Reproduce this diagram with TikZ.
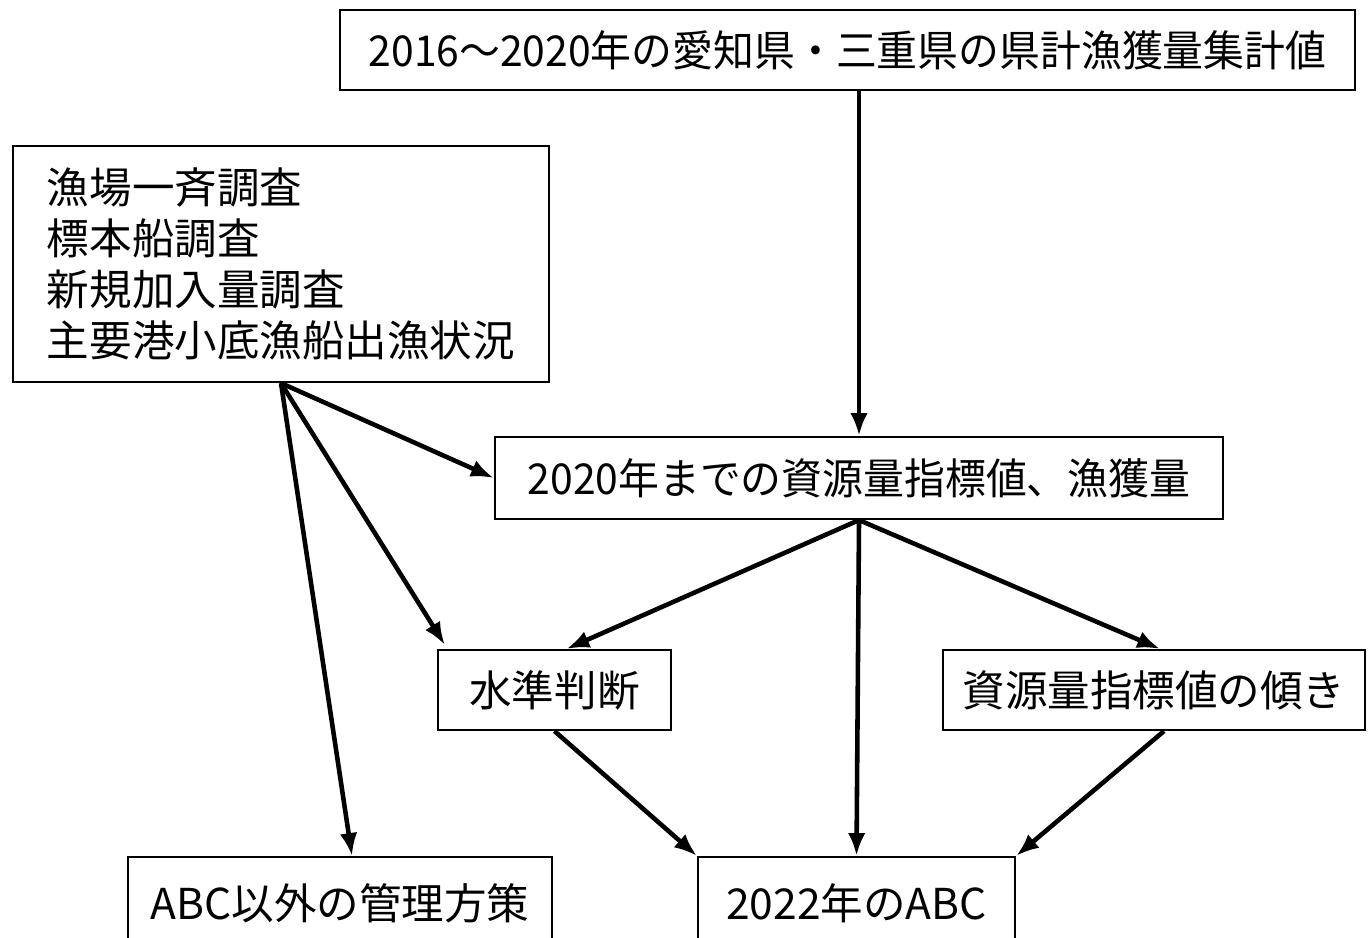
\documentclass[tikz,border=0pt]{standalone}
\usepackage{fontspec}
\setmainfont{Noto Sans CJK JP}
\newfontfamily\narrowjp[FakeStretch=0.96]{Noto Sans CJK JP}
\usetikzlibrary{arrows.meta,calc}
\begin{document}
\begin{tikzpicture}[x=0.01cm,y=-0.01cm,
    box/.style={draw,line width=0.6pt,inner sep=0pt,minimum height=0.8cm,
      font=\fontsize{12.1}{14.5}\selectfont},
    flow/.style={line width=1.3pt,-{Latex[length=6.5pt,width=5pt]}}]
    \useasboundingbox (0,0) rectangle (1371,937);
    % data sources:
    \node [box,minimum width=10.15cm] (catch) at (847.5,50) {\narrowjp 2016～2020年の愛知県・三重県の県計漁獲量集計値};
    \node [box,minimum width=5.36cm,minimum height=2.36cm,align=left] (survey) at (281,264)
      {漁場一斉調査\\標本船調査\\新規加入量調査\\主要港小底漁船出漁状況};
    % indices:
    \node [box,minimum width=7.28cm,minimum height=0.82cm] (index) at (859,478) {\narrowjp 2020年までの資源量指標値、漁獲量};
    \node [box,minimum width=2.33cm] (level) at (554.5,690) {水準判断};
    \node [box,minimum width=4.22cm] (trend) at (1154,690) {資源量指標値の傾き};
    % results:
    \node [box,minimum width=4.24cm,minimum height=0.92cm] (other) at (340,903) {ABC以外の管理方策};
    \node [box,minimum width=3.17cm,minimum height=0.92cm] (abc) at (856.5,903) {2022年のABC};
    % arrows:
    \draw [flow] (index.north |- catch.south) -- (index.north);
    \draw [flow] (survey.south) -- (index.west);
    \draw [flow] (survey.south) -- ($(level.north west)+(8,-4)$);
    \draw [flow] (survey.south) -- ($(other.north)+(12,0)$);
    \draw [flow] (index.south) -- ($(level.north)+(12,0)$);
    \draw [flow] (index.south) -- (abc.north);
    \draw [flow] (index.south) -- ($(trend.north)+(6,0)$);
    \draw [flow] (level.south) -- (abc.north west);
    \draw [flow] ($(trend.south)+(10,0)$) -- (abc.north east);
\end{tikzpicture}
\end{document}
